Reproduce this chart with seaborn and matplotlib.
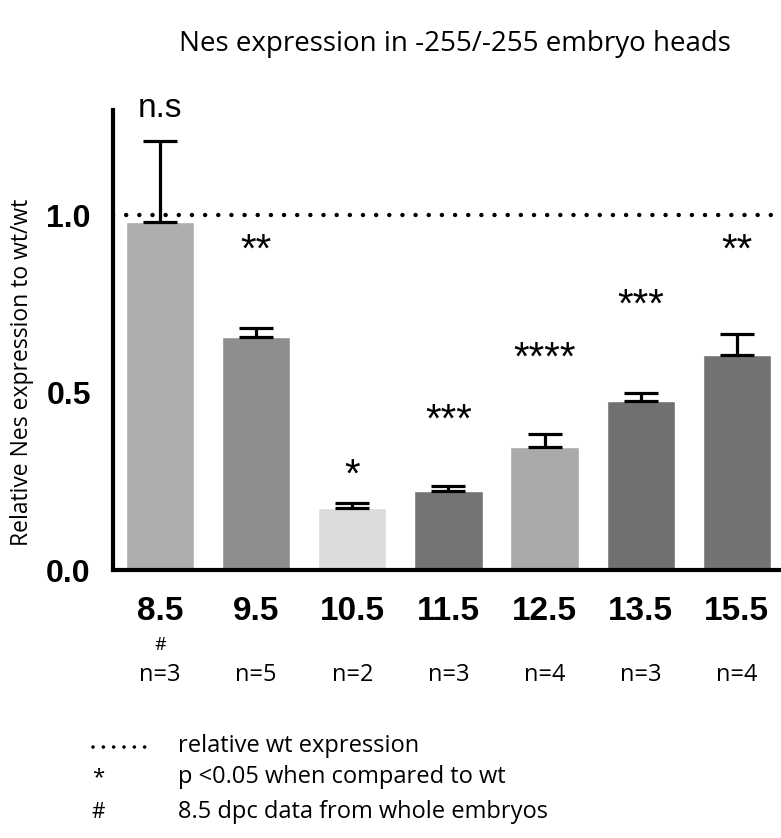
import numpy as np
import pandas as pd
import seaborn as sns
import matplotlib.pyplot as plt
from matplotlib.lines import Line2D

# data
ages = ["8.5", "9.5", "10.5", "11.5", "12.5", "13.5", "15.5"]
expr = [0.98, 0.657, 0.176, 0.224, 0.346, 0.476, 0.606]
sem = [0.23, 0.026, 0.014, 0.014, 0.037, 0.023, 0.06]
stars = ["n.s", "**", "*", "***", "****", "***", "**"]
star_y = [1.30, 0.935, 0.30, 0.456, 0.632, 0.78, 0.935]
n_labels = ["n=3", "n=5", "n=2", "n=3", "n=4", "n=3", "n=4"]
bar_colors = ["#aeaeb1", "#8e8e8f", "#dcdcdc", "#747474", "#aaaaac", "#707070", "#737373"]

df = pd.DataFrame({"age": ages, "expr": expr})

sns.set_style("white")
plt.rcParams["font.family"] = ["Open Sans", "DejaVu Sans"]
plt.rcParams["text.color"] = "black"
plt.rcParams["axes.labelcolor"] = "black"
plt.rcParams["xtick.color"] = "black"
plt.rcParams["ytick.color"] = "black"

fig = plt.figure(figsize=(7.81, 8.38), dpi=100)
ax = fig.add_axes([0.1447, 0.3198, 0.854, 0.5489])

sns.barplot(data=df, x="age", y="expr", hue="age", palette=bar_colors,
            legend=False, width=0.71, saturation=1, errorbar=None, ax=ax)
ax.errorbar(x=np.arange(len(ages)), y=expr, yerr=[np.zeros(len(ages)), sem],
            fmt="none", ecolor="black", elinewidth=2.3, capsize=12, capthick=2.3,
            zorder=1)

# reference line at wt level
ax.axhline(1.0, color="black", lw=3.2, linestyle=(0, (0.01, 2.95)),
           dash_capstyle="round", zorder=3)

ax.set_xlim(-0.49, 6.45)
ax.set_ylim(0, 1.297)
ax.set_yticks([0.0, 0.5, 1.0])
ax.set_yticklabels(["0.0", "0.5", "1.0"], fontfamily="Liberation Sans",
                   fontweight="bold", fontsize=23)
ax.set_xticks(range(len(ages)))
ax.set_xticklabels(ages, fontfamily="Liberation Sans", fontweight="bold", fontsize=24)
ax.tick_params(axis="both", width=3, length=12, color="black", pad=4)
ax.tick_params(axis="x", pad=7)
for s in ["top", "right"]:
    ax.spines[s].set_visible(False)
for s in ["left", "bottom"]:
    ax.spines[s].set_linewidth(3)
    ax.spines[s].set_color("black")
ax.set_xlabel("")
ax.set_ylabel("Relative Nes expression to wt/wt", fontsize=16.5)
ax.yaxis.set_label_coords(-0.118, 0.43)

for i, (s, yv) in enumerate(zip(stars, star_y)):
    if s == "n.s":
        ax.text(i, yv, s, ha="center", va="center", fontsize=24,
                fontfamily="Liberation Sans", clip_on=False)
    else:
        ax.text(i, yv - 0.035, s, ha="center", va="center", fontsize=29,
                fontfamily="Liberation Sans", clip_on=False)

tr = ax.get_xaxis_transform()
ax.text(0, -0.163, "#", ha="center", va="center", fontsize=13, transform=tr)
for i, lab in enumerate(n_labels):
    ax.text(i, -0.228, lab, ha="center", va="center", fontsize=17, transform=tr)

fig.text(0.583, 0.948, "Nes expression in -255/-255 embryo heads",
         ha="center", va="center", fontsize=20)

# key below the chart
fig.add_artist(Line2D([0.119, 0.19], [1 - 747 / 838] * 2, color="black", lw=2.6,
                      linestyle=(0, (0.01, 2.85)), dash_capstyle="round"))
fig.text(0.126, 1 - 778 / 838, "*", ha="center", va="center", fontsize=16)
fig.text(0.126, 1 - 812 / 838, "#", ha="center", va="center", fontsize=15)
fig.text(0.228, 1 - 746 / 838, "relative wt expression", va="center", fontsize=17)
fig.text(0.228, 1 - 777 / 838, "p <0.05 when compared to wt", va="center", fontsize=17)
fig.text(0.228, 1 - 812 / 838, "8.5 dpc data from whole embryos", va="center", fontsize=17)

fig.savefig("out.png", dpi=100)
